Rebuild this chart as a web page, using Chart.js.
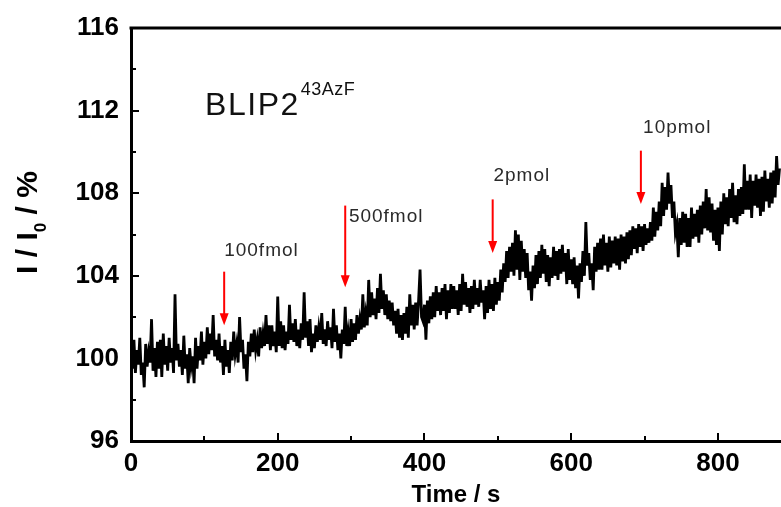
<!DOCTYPE html>
<html><head><meta charset="utf-8">
<style>html,body{margin:0;padding:0;background:#fff;}canvas{display:block;}</style>
<script src="https://cdn.jsdelivr.net/npm/chart.js@4/dist/chart.umd.min.js"></script>
</head><body>
<canvas id="c" width="781" height="507"></canvas>
<script>
// sampling interval of the recorded trace (s)
const sampleStep = 2;
// I/I0 (%), one value per sample (each row = 40 s)
const signal = [
  100.6, 99.5, 100.9, 99.3, 100.4, 99.7, 101.0, 99.2, 99.8, 98.6, 100.7, 99.6, 100.3, 99.8, 101.9, 99.4, 100.5, 99.1, 100.8, 99.5,
  100.9, 99.1, 101.2, 99.7, 100.6, 99.4, 101.0, 99.8, 100.5, 99.3, 103.1, 99.9, 100.7, 99.6, 100.4, 99.2, 101.1, 99.5, 100.2, 98.8,
  100.5, 99.6, 100.1, 98.8, 101.0, 99.5, 100.6, 99.9, 101.3, 99.7, 100.8, 100.0, 101.5, 100.2, 101.2, 100.4, 102.1, 100.1, 100.9, 99.9,
  101.2, 99.8, 100.6, 99.2, 100.9, 99.6, 100.4, 99.3, 100.8, 99.9, 101.3, 100.2, 100.7, 99.8, 102.0, 100.3, 100.9, 99.5, 100.2, 98.9,
  100.8, 100.1, 101.2, 100.3, 101.4, 100.4, 100.9, 100.1, 101.5, 100.5, 101.2, 100.6, 102.1, 100.7, 101.6, 100.4, 101.6, 100.6, 101.3, 100.3,
  103.0, 100.6, 101.8, 100.5, 101.6, 100.4, 101.3, 100.7, 102.6, 100.9, 101.7, 100.8, 101.9, 100.6, 101.4, 100.5, 101.7, 100.9, 103.2, 101.0,
  101.8, 100.6, 101.9, 100.3, 101.2, 100.5, 101.6, 100.8, 101.5, 100.9, 102.2, 100.7, 101.4, 100.6, 101.8, 100.9, 101.5, 100.5, 102.4, 100.8,
  101.6, 100.4, 101.2, 100.0, 101.4, 100.7, 102.5, 100.6, 101.3, 100.6, 101.9, 100.8, 101.7, 100.9, 102.1, 101.2, 101.9, 101.4, 103.1, 101.5,
  102.2, 101.6, 103.8, 102.0, 103.2, 102.1, 102.9, 101.9, 103.4, 102.2, 104.1, 102.4, 103.3, 102.1, 103.1, 101.9, 102.8, 101.8, 102.7, 101.6,
  102.3, 101.2, 102.4, 101.0, 102.1, 100.9, 102.2, 101.2, 102.5, 101.0, 103.1, 101.6, 102.6, 101.4, 102.7, 101.6, 102.8, 104.3, 102.0, 101.8,
  102.6, 100.9, 102.8, 101.7, 103.0, 101.9, 103.2, 102.0, 103.5, 102.3, 103.2, 102.1, 103.4, 102.3, 103.6, 101.9, 103.3, 102.2, 103.6, 102.4,
  103.5, 102.4, 103.3, 102.1, 103.6, 102.3, 104.1, 102.6, 103.7, 102.5, 103.4, 102.2, 103.5, 102.4, 103.8, 102.6, 103.4, 102.5, 103.8, 102.7,
  103.3, 101.9, 103.5, 102.2, 103.8, 102.4, 103.6, 102.3, 103.9, 102.6, 103.7, 102.8, 104.3, 103.2, 104.6, 103.7, 105.2, 103.9, 105.4, 104.2,
  105.6, 104.0, 106.2, 104.3, 106.0, 103.8, 105.7, 104.2, 105.3, 103.9, 105.1, 103.3, 104.2, 102.8, 104.5, 103.4, 105.0, 103.6, 105.2, 103.9,
  105.5, 104.1, 105.3, 103.7, 105.0, 103.5, 104.9, 103.9, 105.4, 104.0, 105.2, 103.8, 105.3, 104.1, 105.5, 104.2, 105.1, 103.6, 105.3, 103.8,
  104.8, 103.6, 104.9, 103.4, 104.5, 102.9, 104.6, 103.7, 105.2, 104.0, 106.6, 104.5, 105.1, 103.8, 104.6, 103.3, 105.4, 104.2, 105.6, 104.3,
  105.8, 104.3, 106.0, 104.5, 105.6, 104.2, 105.9, 104.4, 105.7, 104.6, 105.9, 104.5, 105.8, 104.3, 106.0, 104.7, 105.9, 104.6, 106.1, 104.8,
  106.2, 105.0, 106.4, 105.3, 106.3, 105.1, 106.5, 105.4, 106.4, 105.2, 106.5, 105.5, 106.3, 105.6, 106.6, 105.7, 107.3, 105.9, 107.1, 106.2,
  107.6, 106.4, 108.5, 106.9, 108.3, 107.2, 109.0, 107.5, 108.4, 106.8, 107.6, 106.1, 106.5, 104.9, 106.8, 105.5, 107.1, 105.6, 107.0, 105.4,
  106.8, 105.4, 107.3, 105.8, 107.0, 105.9, 107.2, 105.6, 107.4, 106.0, 107.6, 106.3, 108.2, 106.2, 107.8, 106.1, 107.5, 105.7, 107.2, 105.5,
  107.3, 105.2, 107.6, 106.0, 108.0, 106.5, 107.8, 106.4, 108.2, 106.8, 108.5, 106.6, 107.9, 106.5, 108.2, 106.9, 108.3, 107.0, 109.4, 107.2,
  108.6, 107.2, 108.9, 106.8, 108.6, 107.4, 108.9, 107.3, 108.7, 106.9, 108.8, 107.1, 109.1, 107.6, 108.7, 107.3, 109.0, 107.5, 109.1, 107.8,
  109.8, 108.4, 109.2
];
const xTicks = [0, 200, 400, 600, 800];
const yTicks = [96, 100, 104, 108, 112, 116];
const xRange = [0, 886];
const yRange = [96, 116];
// injections (time in s) and their annotation arrows (in I/I0 %)
const injTimes  = [127, 292, 493, 695];
const injLabels = ['100fmol', '500fmol', '2pmol', '10pmol'];
const arrowTop  = [104.2, 107.4, 107.7, 110.06];
const arrowTip  = [101.6, 103.45, 105.1, 107.48];
const labelX    = [127, 297, 494, 698];
const labelY    = [105.2, 106.85, 108.85, 111.15];
const sampleName = 'BLIP2';
const sampleSup = '43AzF';
const samplePos = [101, 111.8];

const points = signal.map((v, i) => ({x: i * sampleStep, y: v}));
const FONT = '"Liberation Sans", Arial, Helvetica, sans-serif';

const decor = {
  id: 'decor',
  afterDatasetsDraw(chart) {
    const ctx = chart.ctx, ca = chart.chartArea;
    const xs = chart.scales.x, ys = chart.scales.y;
    ctx.save();
    // top frame line
    ctx.strokeStyle = '#000'; ctx.lineWidth = 3;
    ctx.beginPath(); ctx.moveTo(ca.left - 1.5, ca.top); ctx.lineTo(ca.right, ca.top); ctx.stroke();
    // inward ticks
    ctx.lineWidth = 2;
    const yMinor = [];
    for (let i = 0; i < yTicks.length - 1; i++) yMinor.push((yTicks[i] + yTicks[i+1]) / 2);
    const xMinor = [];
    for (let i = 0; i < xTicks.length - 1; i++) xMinor.push((xTicks[i] + xTicks[i+1]) / 2);
    ctx.beginPath();
    yTicks.forEach(v => { const p = Math.round(ys.getPixelForValue(v)); ctx.moveTo(ca.left, p); ctx.lineTo(ca.left + 8, p); });
    yMinor.forEach(v => { const p = Math.round(ys.getPixelForValue(v)); ctx.moveTo(ca.left, p); ctx.lineTo(ca.left + 5, p); });
    xTicks.forEach(v => { const p = Math.round(xs.getPixelForValue(v)); ctx.moveTo(p, ca.bottom); ctx.lineTo(p, ca.bottom - 8); });
    xMinor.forEach(v => { const p = Math.round(xs.getPixelForValue(v)); ctx.moveTo(p, ca.bottom); ctx.lineTo(p, ca.bottom - 5); });
    ctx.stroke();
    // arrows
    ctx.strokeStyle = '#f00'; ctx.fillStyle = '#f00'; ctx.lineWidth = 2;
    injTimes.forEach((t, i) => {
      const x = xs.getPixelForValue(t);
      const y0 = ys.getPixelForValue(arrowTop[i]);
      const y1 = ys.getPixelForValue(arrowTip[i]);
      ctx.beginPath(); ctx.moveTo(x, y0); ctx.lineTo(x, y1 - 10); ctx.stroke();
      ctx.beginPath(); ctx.moveTo(x - 4.5, y1 - 12); ctx.lineTo(x + 4.5, y1 - 12); ctx.lineTo(x, y1); ctx.closePath(); ctx.fill();
    });
    // labels
    ctx.fillStyle = '#2a2a2a';
    ctx.font = '19px ' + FONT;
    ctx.letterSpacing = '1px';
    ctx.textAlign = 'left'; ctx.textBaseline = 'middle';
    injLabels.forEach((s, i) => ctx.fillText(s, xs.getPixelForValue(labelX[i]), ys.getPixelForValue(labelY[i])));
    // sample name with superscript
    ctx.fillStyle = '#111';
    ctx.textBaseline = 'alphabetic';
    ctx.font = '32px ' + FONT;
    ctx.letterSpacing = '1.5px';
    const bx = xs.getPixelForValue(samplePos[0]), by = ys.getPixelForValue(samplePos[1]);
    ctx.fillText(sampleName, bx, by);
    const w = ctx.measureText(sampleName).width;
    ctx.font = '18px ' + FONT;
    ctx.letterSpacing = '0.5px';
    ctx.fillText(sampleSup, bx + w + 1, by - 20);
    // y axis title (rotated, with subscript)
    ctx.letterSpacing = '0px';
    ctx.fillStyle = '#000';
    ctx.translate(37, (ca.top + ca.bottom) / 2 - 12);
    ctx.rotate(-Math.PI / 2);
    const big = 'bold 30px ' + FONT, small = 'bold 17px ' + FONT;
    const parts = [['I / I', big, 0], ['0', small, 9], [' / %', big, 0]];
    let total = 0;
    parts.forEach(p => { ctx.font = p[1]; total += ctx.measureText(p[0]).width; });
    let cx = -total / 2;
    ctx.textAlign = 'left';
    parts.forEach(p => { ctx.font = p[1]; ctx.fillText(p[0], cx, p[2]); cx += ctx.measureText(p[0]).width; });
    ctx.restore();
  }
};

new Chart(document.getElementById('c'), {
  type: 'scatter',
  data: { datasets: [{
    data: points, showLine: true, borderColor: '#000', backgroundColor: '#000',
    borderWidth: 2.8, pointRadius: 0, tension: 0
  }]},
  options: {
    responsive: false, animation: false, devicePixelRatio: 1,
    layout: { padding: { top: 28, right: 0, left: 0, bottom: 0 } },
    plugins: { legend: { display: false }, tooltip: { enabled: false } },
    scales: {
      x: {
        type: 'linear', min: xRange[0], max: xRange[1],
        afterFit: s => { s.height = 66; },
        afterBuildTicks: s => { s.ticks = xTicks.map(v => ({value: v})); },
        ticks: { includeBounds: false, stepSize: 200, padding: 7, color: '#000', maxRotation: 0,
                 font: { family: FONT, size: 26, weight: 'bold' } },
        grid: { display: false, drawTicks: false },
        border: { display: true, color: '#000', width: 3 },
        title: { display: true, text: 'Time / s', color: '#000', padding: 0,
                 font: { family: FONT, size: 24, weight: 'bold', lineHeight: 1 } }
      },
      y: {
        type: 'linear', min: yRange[0], max: yRange[1],
        afterFit: s => { s.width = 131; },
        afterBuildTicks: s => { s.ticks = yTicks.map(v => ({value: v})); },
        ticks: { stepSize: 4, padding: 12, color: '#000',
                 font: { family: FONT, size: 26, weight: 'bold' } },
        grid: { display: false, drawTicks: false },
        border: { display: true, color: '#000', width: 3 }
      }
    }
  },
  plugins: [decor]
});
</script>
</body></html>
